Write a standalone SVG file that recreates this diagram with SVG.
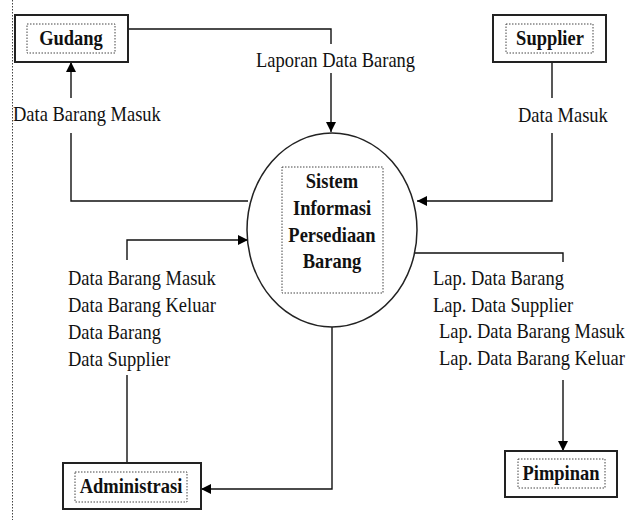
<svg xmlns="http://www.w3.org/2000/svg" width="630" height="520" viewBox="0 0 630 520">
<defs>
<marker id="arr" viewBox="0 0 10 10" refX="10" refY="5" markerWidth="10" markerHeight="10" markerUnits="userSpaceOnUse" orient="auto">
<path d="M0,0 L10,5 L0,10 z" fill="#000"/>
</marker>
<style>
.box{fill:#fff;stroke:#222;stroke-width:2}
.inner{fill:none;stroke:#444;stroke-width:1;stroke-dasharray:1.5,1.5}
.lbl{font-family:"Liberation Serif","Times New Roman",serif;font-size:18.5px;fill:#111}
.ttl{font-family:"Liberation Serif","Times New Roman",serif;font-size:18.5px;font-weight:bold;fill:#111;text-anchor:middle}
.ln{fill:none;stroke:#111;stroke-width:1.4}
</style>
</defs>
<rect width="630" height="520" fill="#fff"/>
<line x1="12.5" y1="0" x2="12.5" y2="520" stroke="#444" stroke-width="1" stroke-dasharray="1.5,1.5"/>

<g id="connectors">
<polyline class="ln" points="128,29 331,29 331,44"/>
<polyline class="ln" points="331,73 331,132" marker-end="url(#arr)"/>
<polyline class="ln" points="248,201 71,201 71,133"/>
<polyline class="ln" points="71,98 71,62" marker-end="url(#arr)"/>
<polyline class="ln" points="552,62 552,98"/>
<polyline class="ln" points="552,133 552,201 417,201" marker-end="url(#arr)"/>
<polyline class="ln" points="127,260 127,240 248,240" marker-end="url(#arr)"/>
<polyline class="ln" points="127,375 127,463"/>
<polyline class="ln" points="332,327 332,489 201,489" marker-end="url(#arr)"/>
<polyline class="ln" points="415,253 563,253 563,262"/>
<polyline class="ln" points="563,380 563,451" marker-end="url(#arr)"/>
<text class="lbl" transform="translate(256,67) scale(1,1.12)">Laporan Data Barang</text>
<text class="lbl" transform="translate(13,121) scale(1,1.12)">Data Barang Masuk</text>
<text class="lbl" transform="translate(518,122) scale(1,1.12)">Data Masuk</text>
<text class="lbl" transform="translate(68,285) scale(1,1.12)">Data Barang Masuk</text>
<text class="lbl" transform="translate(68,312) scale(1,1.12)">Data Barang Keluar</text>
<text class="lbl" transform="translate(68,339) scale(1,1.12)">Data Barang</text>
<text class="lbl" transform="translate(68,366) scale(1,1.12)">Data Supplier</text>
<text class="lbl" transform="translate(433,285) scale(1,1.12)">Lap. Data Barang</text>
<text class="lbl" transform="translate(433,312) scale(1,1.12)">Lap. Data Supplier</text>
<text class="lbl" transform="translate(439,338) scale(1,1.12)">Lap. Data Barang Masuk</text>
<text class="lbl" transform="translate(439,365) scale(1,1.12)">Lap. Data Barang Keluar</text>
</g>

<g id="gudang">
<rect class="box" x="15" y="15" width="113" height="47"/>
<rect class="inner" x="27" y="24" width="88" height="29"/>
<text class="ttl" transform="translate(71,45) scale(1,1.12)">Gudang</text>
</g>

<g id="supplier">
<rect class="box" x="493" y="15" width="113" height="47"/>
<rect class="inner" x="506" y="24" width="87" height="29"/>
<text class="ttl" transform="translate(550,45) scale(1,1.12)">Supplier</text>
</g>

<g id="sistem">
<ellipse cx="332" cy="230" rx="85" ry="97" fill="none" stroke="#222" stroke-width="1.5"/>
<rect class="inner" x="282" y="167" width="101" height="126"/>
<text class="ttl" transform="translate(332,188) scale(1,1.12)">Sistem</text>
<text class="ttl" transform="translate(332,215) scale(1,1.12)">Informasi</text>
<text class="ttl" transform="translate(332,242) scale(1,1.12)">Persediaan</text>
<text class="ttl" transform="translate(332,268) scale(1,1.12)">Barang</text>
</g>

<g id="administrasi">
<rect class="box" x="63" y="463" width="138" height="46"/>
<rect class="inner" x="75" y="472" width="112" height="30"/>
<text class="ttl" transform="translate(131,493) scale(1,1.12)">Administrasi</text>
</g>

<g id="pimpinan">
<rect class="box" x="505" y="451" width="112" height="46"/>
<rect class="inner" x="518" y="459" width="87" height="29"/>
<text class="ttl" transform="translate(561,480) scale(1,1.12)">Pimpinan</text>
</g>
</svg>
